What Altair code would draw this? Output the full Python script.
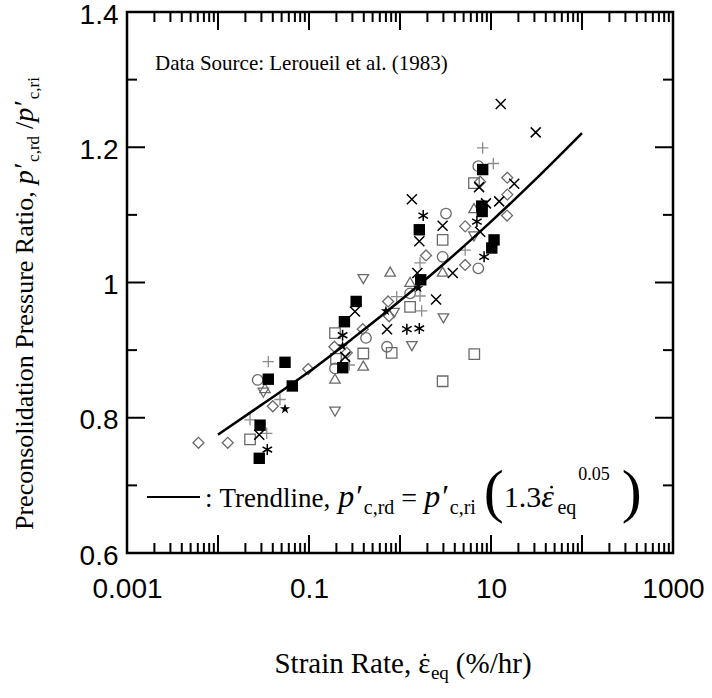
import altair as alt
import pandas as pd

# ---------------- data ----------------
sq_filled_x = [8.1, 7.9, 8.0, 1.63, 10.8, 10.2, 1.69, 0.33, 0.245, 0.235, 0.0545, 0.0357, 0.0655, 0.029, 0.0284]
sq_filled_y = [1.167, 1.113, 1.105, 1.078, 1.063, 1.051, 1.004, 0.972, 0.942, 0.874, 0.882, 0.857, 0.847, 0.789, 0.740]

cross_x = [12.8, 31.0, 7.4, 18.0, 1.35, 8.8, 12.3, 2.94, 1.63, 7.6, 3.8, 1.55, 2.49, 0.32, 0.72, 0.25, 0.0284]
cross_y = [1.264, 1.222, 1.141, 1.146, 1.123, 1.117, 1.120, 1.084, 1.061, 1.075, 1.014, 1.014, 0.975, 0.957, 0.931, 0.890, 0.775]

aster_x = [1.8, 7.0, 8.4, 0.234, 1.19, 1.63, 0.0348]
aster_y = [1.099, 1.090, 1.038, 0.922, 0.931, 0.932, 0.753]

star_x = [1.59, 0.70, 0.0545, 0.234]
star_y = [0.992, 0.958, 0.813, 0.906]

sq_open_x = [6.5, 2.94, 1.29, 0.193, 0.395, 0.81, 6.55, 2.94, 0.198, 0.0225]
sq_open_y = [1.147, 1.063, 0.964, 0.925, 0.895, 0.896, 0.894, 0.854, 0.887, 0.768]

circ_x = [7.25, 3.2, 2.94, 7.25, 1.29, 0.423, 0.72, 0.193, 0.0273]
circ_y = [1.172, 1.102, 1.038, 1.021, 0.984, 0.918, 0.905, 0.873, 0.856]

dia_x = [7.6, 15.1, 15.1, 15.0, 5.2, 1.93, 5.2, 0.74, 0.76, 0.39, 0.19, 0.26, 0.098, 0.040, 0.0061, 0.0128]
dia_y = [1.149, 1.155, 1.130, 1.099, 1.083, 1.040, 1.026, 0.972, 0.950, 0.931, 0.905, 0.896, 0.872, 0.817, 0.763, 0.763]

triu_x = [6.5, 0.78, 2.94, 1.29, 0.395, 0.193, 0.0328]
triu_y = [1.110, 1.016, 1.016, 1.001, 0.877, 0.858, 0.844]

trid_x = [6.5, 0.395, 0.86, 3.0, 1.35, 0.193, 0.0315]
trid_y = [1.068, 1.005, 0.955, 0.947, 0.906, 0.809, 0.837]

plus_x = [8.1, 10.6, 5.2, 1.66, 1.66, 1.73, 0.92, 0.277, 0.0357, 0.048, 0.0225, 0.0343]
plus_y = [1.199, 1.176, 1.048, 1.029, 0.980, 0.958, 0.979, 0.878, 0.883, 0.827, 0.797, 0.777]

trend_x = [0.01, 0.03, 0.1, 0.3, 1, 3, 10, 30, 100]
trend_y = [0.775, 0.819, 0.868, 0.917, 0.973, 1.027, 1.090, 1.151, 1.221]

x_label_values = [0.001, 0.1, 10, 1000]
y_label_values = [0.6, 0.8, 1.0, 1.2, 1.4]
x_decades = [0.001, 0.01, 0.1, 1, 10, 100, 1000]
x_minor_mult = [2, 3, 4, 5, 6, 7, 8, 9]
y_major_ticks = [0.6, 0.8, 1.0, 1.2, 1.4]
y_minor_ticks = [0.7, 0.9, 1.1, 1.3]

# ---------------- layout ----------------
W, H = 546, 541
OX, OY = 127, 12
MAJ, MIN = 18, 10

groups = [
    ("sq_filled", sq_filled_x, sq_filled_y),
    ("cross", cross_x, cross_y),
    ("aster", aster_x, aster_y),
    ("star", star_x, star_y),
    ("sq_open", sq_open_x, sq_open_y),
    ("circ", circ_x, circ_y),
    ("dia", dia_x, dia_y),
    ("triu", triu_x, triu_y),
    ("trid", trid_x, trid_y),
    ("plus", plus_x, plus_y),
]
rows = []
for name, xs, ys in groups:
    for a, b in zip(xs, ys):
        rows.append({"x": a, "y": b, "kind": name})
pts = pd.DataFrame(rows)

GRAY = "#6a6a6a"
LGRAY = "#8c8c8c"
STAR = "M0,-1L0.223,-0.307L0.951,-0.309L0.361,0.117L0.588,0.809L0,0.38L-0.588,0.809L-0.361,0.117L-0.951,-0.309L-0.223,-0.307Z"
styles = {
    "sq_open": dict(shape="square", filled=False, color=GRAY, size=110, strokeWidth=1.3),
    "circ": dict(shape="circle", filled=False, color=GRAY, size=110, strokeWidth=1.3),
    "dia": dict(shape="diamond", filled=False, color=GRAY, size=120, strokeWidth=1.3),
    "triu": dict(shape="triangle-up", filled=False, color=GRAY, size=110, strokeWidth=1.3),
    "trid": dict(shape="triangle-down", filled=False, color=GRAY, size=110, strokeWidth=1.3),
    "plus": dict(shape="M-1,0L1,0M0,-1L0,1", filled=False, color=LGRAY, size=130, strokeWidth=1.3),
    "cross": dict(shape="M-1,-1L1,1M-1,1L1,-1", filled=False, color="black", size=100, strokeWidth=1.5),
    "aster": dict(shape="M0,-1L0,1M-0.87,-0.5L0.87,0.5M-0.87,0.5L0.87,-0.5", filled=False, color="black", size=120, strokeWidth=1.5),
    "sq_filled": dict(shape="square", filled=True, color="black", size=130),
    "star": dict(shape=STAR, filled=True, color="black", size=120),
}

X = alt.X("x:Q", scale=alt.Scale(type="log", domain=[0.001, 1000]),
          axis=alt.Axis(values=x_label_values, labelExpr="datum.value + ''", title=None,
                        domain=False, ticks=False, grid=False, labelFlush=False,
                        labelFont="Liberation Sans", labelFontSize=28, labelColor="black",
                        labelPadding=22))
Y = alt.Y("y:Q", scale=alt.Scale(domain=[0.6, 1.4], zero=False, nice=False),
          axis=alt.Axis(values=y_label_values, labelExpr="datum.value + ''", title=None,
                        domain=False, ticks=False, grid=False, labelOffset=3,
                        labelFont="Liberation Sans", labelFontSize=28, labelColor="black",
                        labelPadding=9))

layers = []

# ticks (inside, all four sides)
x_minor = [d * m for d in x_decades[:-1] for m in x_minor_mult]
xt_major = pd.DataFrame({"x": x_decades})
xt_minor = pd.DataFrame({"x": x_minor})
yt_major = pd.DataFrame({"y": y_major_ticks})
yt_minor = pd.DataFrame({"y": y_minor_ticks})
for df, L in [(xt_major, MAJ), (xt_minor, MIN)]:
    layers.append(alt.Chart(df).mark_rule(color="black", strokeWidth=2).encode(
        x=X, y=alt.value(H), y2=alt.value(H - L)))
    layers.append(alt.Chart(df).mark_rule(color="black", strokeWidth=2).encode(
        x=X, y=alt.value(0), y2=alt.value(L)))
for df, L in [(yt_major, MAJ), (yt_minor, MIN)]:
    layers.append(alt.Chart(df).mark_rule(color="black", strokeWidth=2).encode(
        y=Y, x=alt.value(0), x2=alt.value(L)))
    layers.append(alt.Chart(df).mark_rule(color="black", strokeWidth=2).encode(
        y=Y, x=alt.value(W), x2=alt.value(W - L)))

# scatter markers
for name in ["sq_open", "circ", "dia", "triu", "trid", "plus", "cross", "aster", "sq_filled", "star"]:
    st = styles[name]
    layers.append(alt.Chart(pts).transform_filter(alt.datum.kind == name)
                  .mark_point(opacity=1, **st).encode(x=X, y=Y))

# trendline
trend = pd.DataFrame({"x": trend_x, "y": trend_y})
layers.append(alt.Chart(trend).mark_line(color="black", strokeWidth=2.5, interpolate="monotone")
              .encode(x=X, y=Y))

# ---------------- text ----------------
TW = {" ": .25, "(": .333, ")": .333, ",": .25, ".": .25, "/": .278, ":": .278, "=": .564,
      "%": .833, "\u2032": .3, "\u03b5": .44,
      "a": .444, "b": .5, "c": .444, "d": .5, "e": .444, "f": .333, "g": .5, "h": .5, "i": .278,
      "l": .278, "n": .5, "o": .5, "p": .5, "q": .5, "r": .333, "s": .389, "t": .278, "u": .5,
      "D": .722, "L": .611, "P": .556, "R": .667, "S": .556, "T": .611}


def tw(s, size):
    return sum(TW.get(c, .5) for c in s) * size


def txt(s, x, y, size, italic=False, angle=0, align="left", font="Liberation Serif"):
    kw = dict(text=s, font=font, fontSize=size, align=align, baseline="alphabetic", color="black")
    if italic:
        kw["fontStyle"] = "italic"
    if angle:
        kw["angle"] = angle
    return alt.Chart(alt.Data(values=[{}])).mark_text(**kw).encode(
        x=alt.value(x - OX), y=alt.value(y - OY))


def epsdot(x, y, size, italic):
    # epsilon with a small dot above it (rate symbol)
    out = [txt("\u03b5", x, y, size, italic=italic)]
    shift = 0.09 * size if italic else 0.0
    out.append(alt.Chart(alt.Data(values=[{}])).mark_circle(color="black", opacity=1, size=7).encode(
        x=alt.value(x + 0.23 * size + shift - OX), y=alt.value(y - 0.62 * size - OY)))
    return out


# Data source note
layers.append(txt("Data Source: Leroueil et al. (1983)", 155, 70, 21))

# legend line + formula  (text, size, italic, baseline shift, gap before)
layers.append(alt.Chart(alt.Data(values=[{}])).mark_rule(color="black", strokeWidth=2).encode(
    x=alt.value(147 - OX), x2=alt.value(200 - OX), y=alt.value(497 - OY)))
leg = [(":", 27, False, 0, 0), ("Trendline,", 27, False, 0, 7), ("p\u2032", 32, True, 0, 7),
       ("c,rd", 20, False, 7, 0), ("=", 28, False, 0, 7), ("p\u2032", 32, True, 0, 7),
       ("c,ri", 20, False, 7, 0), ("(", 60, False, 4, 8), ("1.3", 30, False, 0, 0),
       ("EPS", 32, True, 0, 0), ("eq", 20, False, 7, 2), ("0.05", 18, False, -27, 2),
       (")", 60, False, 4, 12)]
cx = 205
for s, size, it, dy, gap in leg:
    cx += gap
    if s == "EPS":
        layers.extend(epsdot(cx, 507 + dy, size, it))
        cx += tw("\u03b5", size)
        continue
    layers.append(txt(s, cx, 507 + dy, size, italic=it))
    cx += tw(s, size)

# x title
xt = [("Strain", 29, False, 0, 0), ("Rate,", 29, False, 0, 7), ("EPS", 29, False, 0, 7),
      ("eq", 19, False, 6, 0), ("(%/hr)", 29, False, 0, 7)]
total = sum(tw("\u03b5" if s == "EPS" else s, sz) + g for s, sz, _, _, g in xt)
cx = 403 - total / 2
for s, size, it, dy, gap in xt:
    cx += gap
    if s == "EPS":
        layers.extend(epsdot(cx, 673 + dy, size, it))
        cx += tw("\u03b5", size)
        continue
    layers.append(txt(s, cx, 673 + dy, size, italic=it))
    cx += tw(s, size)

# y title (rotated)
yt = [("Preconsolidation Pressure Ratio,", 26, False, 0, 0), ("p\u2032", 28, True, 0, 7),
      ("c,rd", 17, False, 6, 0), ("/", 26, False, 0, 7), ("p\u2032", 28, True, 0, 0),
      ("c,ri", 17, False, 6, 0)]
cy = 530
for s, size, it, dx, gap in yt:
    cy -= gap
    layers.append(txt(s, 33 + dx, cy, size, italic=it, angle=270))
    cy -= tw(s, size)

chart = alt.layer(*layers).properties(
    width=W, height=H,
    padding={"left": OX, "top": OY, "right": 712 - OX - W, "bottom": 698 - OY - H},
    autosize=alt.AutoSizeParams(type="none"),
    background="white",
).configure_view(stroke="black", strokeWidth=2.5)

chart.save("out.html", embed_options={"renderer": "svg", "actions": False})
